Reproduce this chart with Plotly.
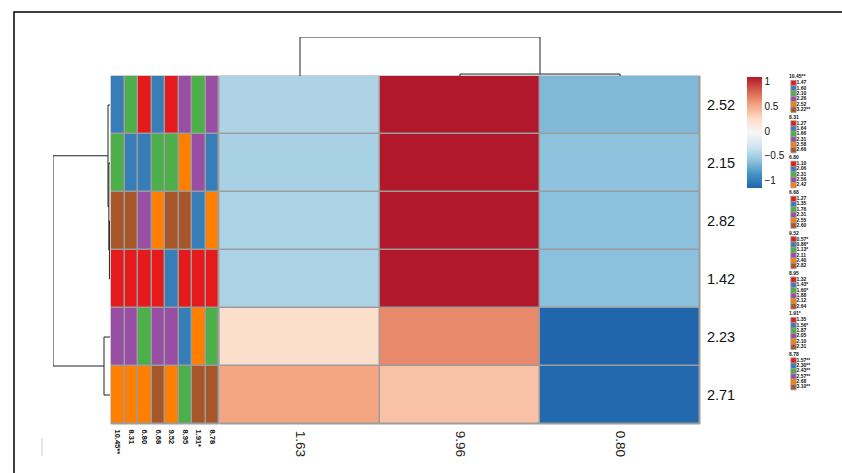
import plotly.graph_objects as go

W, H = 842, 473

# ---- data ----
row_labels = ["2.52", "2.15", "2.82", "1.42", "2.23", "2.71"]
col_labels = ["1.63", "9.96", "0.80"]

# row-scaled values (rows top to bottom, columns left to right)
row_2_52 = [-0.47, 1.10, -0.66]
row_2_15 = [-0.49, 1.10, -0.61]
row_2_82 = [-0.48, 1.10, -0.62]
row_1_42 = [-0.48, 1.10, -0.62]
row_2_23 = [0.22, 0.65, -1.16]
row_2_71 = [0.53, 0.39, -1.14]
values = [row_2_52, row_2_15, row_2_82, row_1_42, row_2_23, row_2_71]
z_min, z_max = -1.16, 1.10
cbar_ticks = [-1, -0.5, 0, 0.5, 1]

# row annotation tracks: name, levels, value for each row
ann_names = ["10.45**", "8.31", "6.80", "6.68", "9.52", "8.95", "1.91*", "8.78"]
ann_levels = [
    ["1.47", "1.60", "2.10", "2.26", "2.52", "3.22**"],
    ["1.27", "1.64", "1.66", "2.31", "2.58", "2.66"],
    ["1.10", "2.06", "2.31", "2.56", "2.42"],
    ["1.27", "1.35", "1.76", "2.31", "2.55", "2.60"],
    ["0.57*", "0.86*", "1.13*", "2.11", "2.40", "2.82"],
    ["1.32", "1.43*", "1.60*", "1.88", "2.12", "2.64"],
    ["1.35", "1.56*", "1.87", "2.05", "2.10", "2.31"],
    ["1.57**", "2.30**", "2.43**", "2.57**", "2.68", "3.10**"],
]
ann_values = [
    ["1.60", "2.10", "3.22**", "1.47", "2.26", "2.52"],
    ["1.66", "1.64", "2.66", "1.27", "2.31", "2.58"],
    ["1.10", "2.06", "2.56", "1.10", "2.31", "2.42"],
    ["1.35", "1.76", "2.55", "1.27", "2.31", "2.60"],
    ["0.57*", "1.13*", "2.82", "0.86*", "2.11", "2.40"],
    ["1.88", "2.12", "2.64", "1.32", "1.43*", "1.60*"],
    ["1.87", "2.05", "1.56*", "1.35", "2.10", "2.31"],
    ["2.57**", "2.30**", "2.68", "1.57**", "2.43**", "3.10**"],
]
set1 = ["#E41A1C", "#377EB8", "#4DAF4A", "#984EA3", "#FF7F00", "#A65628"]

# hierarchical merges: (node a, node b, height); new nodes numbered n, n+1, ...
row_merges = [(2, 3, 0.01), (1, 6, 0.02), (0, 7, 0.035), (4, 5, 0.105), (8, 9, 1.0)]
col_merges = [(1, 2, 0.05), (0, 3, 1.0)]

rdbu = ["#2166AC", "#4393C3", "#92C5DE", "#D1E5F0", "#F7F7F7",
        "#FDDBC7", "#F4A582", "#D6604D", "#B2182B"]
FONT = "Liberation Sans, Arial, sans-serif"
GRID = "#9c9c9c"


def xd(a, b):
    return [a / W, b / W]


def yd(top, bottom):
    return [1 - bottom / H, 1 - top / H]


def dendro_paths(merges, n):
    pos = {i: float(i) for i in range(n)}
    hgt = {i: 0.0 for i in range(n)}
    leaf, height = [], []
    for k, (a, b, h) in enumerate(merges):
        leaf += [pos[a], pos[a], pos[b], pos[b], None]
        height += [hgt[a], h, h, hgt[b], None]
        pos[n + k] = (pos[a] + pos[b]) / 2
        hgt[n + k] = h
    return leaf, height


fig = go.Figure()

# main heatmap
fig.add_trace(go.Heatmap(
    x=list(range(len(col_labels))), y=list(range(len(row_labels))), z=values,
    zmin=z_min, zmax=z_max,
    colorscale=[[i / (len(rdbu) - 1), c] for i, c in enumerate(rdbu)],
    xgap=1.5, ygap=1.5, xaxis="x", yaxis="y",
    colorbar=dict(
        x=747 / W, xanchor="left", y=1 - 132.5 / H, yanchor="middle",
        len=111 / H, lenmode="fraction", thickness=15, thicknessmode="pixels",
        outlinewidth=0, xpad=0, ypad=0, tickvals=cbar_ticks, ticks="",
        tickfont=dict(family=FONT, size=10, color="#111"),
    ),
))

# annotation tracks as a categorical heatmap
ann_z = [[ann_levels[j].index(ann_values[j][i]) for j in range(len(ann_names))]
         for i in range(len(row_labels))]
n_col = len(set1)
disc = []
for k, c in enumerate(set1):
    disc += [[k / n_col, c], [(k + 1) / n_col, c]]
fig.add_trace(go.Heatmap(
    x=list(range(len(ann_names))), y=list(range(len(row_labels))), z=ann_z,
    zmin=-0.5, zmax=n_col - 0.5, colorscale=disc, showscale=False,
    xgap=1.5, ygap=1.5, xaxis="x2", yaxis="y2",
))

# dendrograms
leaf, height = dendro_paths(row_merges, len(row_labels))
fig.add_trace(go.Scatter(x=height, y=leaf, mode="lines", xaxis="x3", yaxis="y3",
                         line=dict(color="#222", width=1), cliponaxis=False,
                         hoverinfo="skip", showlegend=False))
leaf, height = dendro_paths(col_merges, len(col_labels))
fig.add_trace(go.Scatter(x=leaf, y=height, mode="lines", xaxis="x4", yaxis="y4",
                         line=dict(color="#222", width=1), cliponaxis=False,
                         hoverinfo="skip", showlegend=False))

# annotation legend, stacked in pixel space
title_y, sq_y, sq_c, txt_y, txt, titles = [], [], [], [], [], []
y = 77.0
for name, levels in zip(ann_names, ann_levels):
    titles.append("<b>" + name + "</b>")
    title_y.append(y)
    y += 6.0
    for k, lv in enumerate(levels):
        sq_y.append(y)
        sq_c.append(set1[k])
        txt_y.append(y)
        txt.append("<b>" + lv + "</b>")
        y += 5.35
    y += 2.3
fig.add_trace(go.Scatter(
    x=[789] * len(titles), y=title_y, mode="text", text=titles,
    textposition="middle right", textfont=dict(family=FONT, size=5, color="#111"),
    xaxis="x5", yaxis="y5", hoverinfo="skip", showlegend=False, cliponaxis=False))
fig.add_trace(go.Scatter(
    x=[793.5] * len(sq_y), y=sq_y, mode="markers",
    marker=dict(symbol="square", size=5.3, color=sq_c, line=dict(color="#9a9a9a", width=0.8)),
    xaxis="x5", yaxis="y5", hoverinfo="skip", showlegend=False, cliponaxis=False))
fig.add_trace(go.Scatter(
    x=[796.5] * len(txt_y), y=txt_y, mode="text", text=txt,
    textposition="middle right", textfont=dict(family=FONT, size=5, color="#111"),
    xaxis="x5", yaxis="y5", hoverinfo="skip", showlegend=False, cliponaxis=False))

blank = dict(showgrid=False, zeroline=False, showline=False, showticklabels=False,
             ticks="", fixedrange=True)
n_r = len(row_labels)
fig.update_layout(
    width=W, height=H, margin=dict(l=0, r=0, t=0, b=0),
    paper_bgcolor="white", plot_bgcolor="white", showlegend=False,
    font=dict(family=FONT, color="#111"),
    xaxis=dict(blank, domain=xd(220, 700), range=[-0.5, 2.5], showticklabels=True,
               tickvals=list(range(len(col_labels))), ticktext=col_labels, tickangle=90,
               ticks="outside", ticklen=3, tickcolor="rgba(0,0,0,0)",
               tickfont=dict(family=FONT, size=13.5, color="#1a1a1a")),
    yaxis=dict(blank, domain=yd(76, 424), range=[n_r - 0.5, -0.5], side="right",
               showticklabels=True, tickvals=list(range(n_r)), ticktext=row_labels,
               ticks="outside", ticklen=3, tickcolor="rgba(0,0,0,0)",
               tickfont=dict(family=FONT, size=14.5, color="#111")),
    xaxis2=dict(blank, domain=xd(111, 219), range=[-0.5, len(ann_names) - 0.5], anchor="y2",
                showticklabels=True, tickvals=list(range(len(ann_names))),
                ticktext=["<b>" + a + "</b>" for a in ann_names], tickangle=90,
                ticks="outside", ticklen=3, tickcolor="rgba(0,0,0,0)",
                tickfont=dict(family=FONT, size=7.5, color="#111")),
    yaxis2=dict(blank, domain=yd(76, 424), range=[n_r - 0.5, -0.5], anchor="x2"),
    xaxis3=dict(blank, domain=xd(53, 110), range=[1.0, 0.0], anchor="y3"),
    yaxis3=dict(blank, domain=yd(76, 424), range=[n_r - 0.5, -0.5], anchor="x3"),
    xaxis4=dict(blank, domain=xd(220, 700), range=[-0.5, 2.5], anchor="y4"),
    yaxis4=dict(blank, domain=yd(37, 76), range=[0, 1], anchor="x4"),
    xaxis5=dict(blank, domain=xd(780, 842), range=[780, 842], anchor="y5"),
    yaxis5=dict(blank, domain=[0, 1], range=[H, 0], anchor="x5"),
    shapes=[
        dict(type="rect", xref="x domain", yref="y domain", x0=0, x1=1, y0=0, y1=1,
             layer="below", fillcolor=GRID, line=dict(color=GRID, width=1)),
        dict(type="rect", xref="x2 domain", yref="y2 domain", x0=0, x1=1, y0=0, y1=1,
             layer="below", fillcolor=GRID, line=dict(color=GRID, width=1)),
        dict(type="rect", xref="paper", yref="paper", x0=14 / W, x1=1.2, y0=1 - 12 / H, y1=-0.2,
             line=dict(color="black", width=1.5), fillcolor="rgba(0,0,0,0)"),
        dict(type="line", xref="paper", yref="paper", x0=42 / W, x1=42 / W,
             y0=1 - 438 / H, y1=1 - 456 / H, line=dict(color="#cccccc", width=1)),
    ],
)

fig.write_html("out.html")
